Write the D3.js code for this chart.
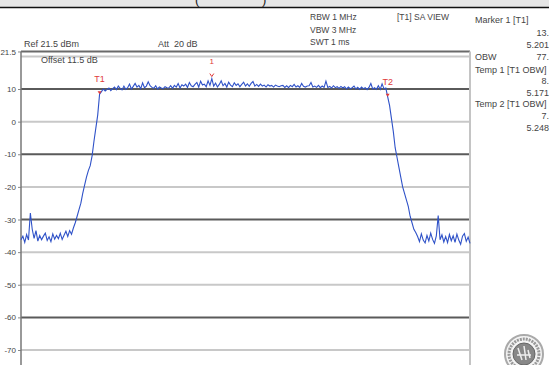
<!DOCTYPE html>
<html>
<head>
<meta charset="utf-8">
<script src="https://cdn.jsdelivr.net/npm/d3@7"></script>
<style>
body { margin: 0; background: #fff; }
svg { display: block; font-family: "Liberation Sans", Arial, sans-serif; }
</style>
</head>
<body>
<script>
var w = 549;
var h = 365;

// spectrum trace, 0.5 MHz steps from 5.150 GHz
var startFreq = 5.15;
var stepFreq = 0.0005;
var levels = [
  -36.2, -35.1, -37.0, -34.6, -36.3, -28.0, -33.0, -35.8, -33.4, -36.6,
  -34.9, -36.2, -35.1, -34.2, -36.4, -35.3, -36.8, -34.4, -36.0, -34.9,
  -35.9, -34.2, -36.1, -34.8, -33.6, -35.2, -33.4,
  -34.5, -32.6, -31.0, -29.0, -27.0, -25.0, -22.0, -19.5, -17.0, -15.0,
  -13.5, -10.5, -6.0, -2.0, 2.0,
  8.4,
  9.2, 10.0, 9.4, 9.9, 10.3, 9.5, 10.1, 10.6, 9.8, 10.9,
  10.2, 9.7, 10.9, 9.9, 10.4, 11.5, 10.0, 10.8, 11.7, 10.6,
  11.1, 10.1, 11.9, 10.4, 10.9, 12.2, 11.0, 10.5, 10.2, 11.0,
  10.0, 10.6, 10.3, 10.1, 10.7, 10.4, 10.3, 11.0, 10.2, 11.1,
  10.6, 11.7, 10.3, 11.3, 10.9, 11.5, 10.5, 12.0, 11.0, 10.7,
  11.4, 12.0, 10.6, 12.4, 11.2, 11.5, 10.7, 12.5, 11.1, 13.2,
  10.9, 11.8, 10.6, 11.4, 12.5, 11.0, 11.7, 10.6, 12.1, 11.2,
  10.7, 11.9, 11.1, 11.6, 10.7, 11.4, 12.1, 10.9, 11.6, 10.8,
  11.7, 12.3, 10.9, 11.4, 10.8, 11.5, 10.9, 11.2, 10.6, 11.3,
  10.9, 11.1, 10.6, 11.2, 10.9, 10.7, 11.0, 11.1, 10.5, 11.0,
  10.4, 11.1, 10.7, 11.4, 10.6, 11.0, 10.5, 11.7, 10.8, 10.6,
  10.9, 11.0, 12.0, 10.6, 10.9, 10.5, 11.1, 10.4, 10.9, 10.5,
  12.4, 10.5, 10.8, 10.3, 11.0, 10.4, 10.7, 10.2, 10.8, 10.3,
  10.7, 10.0, 10.6, 10.1, 10.4, 10.9, 10.0, 10.5, 9.9, 10.6,
  10.1, 10.4, 9.8, 10.5, 11.7, 10.0, 10.4, 9.9, 11.0, 9.9,
  11.6, 10.1, 10.3,
  7.6, 5.0, 1.0, -3.0, -8.0, -11.0, -14.0, -17.0, -20.0, -22.0,
  -24.0, -26.0, -29.0, -31.0, -33.0, -34.0,
  -35.2, -36.8, -34.4, -36.3, -37.2, -34.9, -36.6, -34.2, -36.1, -37.3,
  -35.0, -28.8, -36.2, -34.7, -36.9, -35.2, -37.1, -34.6, -36.5, -35.0,
  -37.0, -34.5, -36.3, -37.6, -35.1, -34.3, -36.7, -35.4, -37.3
];

var yTicks = [21.5, 10, 0, -10, -20, -30, -40, -50, -60, -70];
var gridLevels = [20, 10, 0, -10, -20, -30, -40, -50, -60, -70];
var darkGrid = [10, -10, -30, -60];

var markers = [
  { name: "T1", freq: 5.171, level: 8.4 },
  { name: "T2", freq: 5.248, level: 7.6 }
];
var marker1 = { name: "1", freq: 5.201, level: 13.2 };

var headerLeft = [
  { t: "Ref 21.5 dBm", x: 24, y: 47 },
  { t: "Att\u00a0\u00a020 dB", x: 158, y: 47 },
  { t: "Offset 11.5 dB", x: 41, y: 63 }
];
var headerMid = ["RBW 1 MHz", "VBW 3 MHz", "SWT 1 ms"];
var panelLabels = [
  { t: "Marker 1 [T1]", y: 23 },
  { t: "OBW", y: 60 },
  { t: "Temp 1 [T1 OBW]", y: 73 },
  { t: "Temp 2 [T1 OBW]", y: 107 }
];
var panelValues = [
  { t: "13.", y: 36 },
  { t: "5.201", y: 48 },
  { t: "77.", y: 60 },
  { t: "8.", y: 84 },
  { t: "5.171", y: 96 },
  { t: "7.", y: 119 },
  { t: "5.248", y: 131 }
];

var svg = d3.select("body").append("svg")
  .attr("width", w)
  .attr("height", h);

// top strip
svg.append("rect").attr("x", 0).attr("y", 0).attr("width", w).attr("height", 7)
  .attr("fill", "#e6e6e6");
svg.append("line").attr("x1", 0).attr("x2", w).attr("y1", 7.5).attr("y2", 7.5)
  .attr("stroke", "#111").attr("stroke-width", 1.5);
svg.append("text").attr("x", 195).attr("y", 4).attr("font-size", 13).attr("fill", "#222").text("(");
svg.append("text").attr("x", 262).attr("y", 4).attr("font-size", 13).attr("fill", "#222").text(")");

var left = 21, right = 470;
var x = d3.scaleLinear().domain([5.15, 5.27]).range([left, right]);
var y = d3.scaleLinear().domain([10, -70]).range([89, 350]);

// grid
svg.selectAll(".grid").data(gridLevels).enter().append("line")
  .attr("x1", left).attr("x2", right)
  .attr("y1", function(d) { return y(d); })
  .attr("y2", function(d) { return y(d); })
  .attr("stroke", function(d) { return darkGrid.indexOf(d) >= 0 ? "#5a5a5a" : "#c8c8c8"; })
  .attr("stroke-width", 2);

// frame
svg.append("line").attr("x1", left).attr("x2", right).attr("y1", y(21.5)).attr("y2", y(21.5))
  .attr("stroke", "#6a6a6a").attr("stroke-width", 2);
svg.append("line").attr("x1", right).attr("x2", right).attr("y1", y(21.5)).attr("y2", h)
  .attr("stroke", "#c4c4c4").attr("stroke-width", 2);

var yAxis = svg.append("g")
  .attr("transform", "translate(" + left + ",0)")
  .call(d3.axisLeft(y).tickValues(yTicks).tickSize(3).tickPadding(2)
    .tickFormat(function(d) { return d; }));
yAxis.select(".domain").remove();
yAxis.append("line").attr("x1", 0).attr("x2", 0).attr("y1", y(21.5)).attr("y2", h)
  .attr("stroke", "#777").attr("stroke-width", 1.5);
yAxis.selectAll(".tick line").attr("stroke", "#888");
yAxis.selectAll(".tick text").attr("fill", "#444").attr("font-size", 8)
  .attr("font-family", "Liberation Sans, Arial, sans-serif");

// header texts
svg.selectAll(".hl").data(headerLeft).enter().append("text")
  .attr("x", function(d) { return d.x; }).attr("y", function(d) { return d.y; })
  .attr("font-size", 9).attr("fill", "#444").text(function(d) { return d.t; });
svg.selectAll(".hm").data(headerMid).enter().append("text")
  .attr("x", 310).attr("y", function(d, i) { return 20 + i * 12.5; })
  .attr("font-size", 8.5).attr("fill", "#444").text(function(d) { return d; });
svg.append("text").attr("x", 397).attr("y", 20).attr("font-size", 8.5).attr("fill", "#444")
  .text("[T1] SA VIEW");
svg.selectAll(".pl").data(panelLabels).enter().append("text")
  .attr("x", 475).attr("y", function(d) { return d.y; })
  .attr("font-size", 9).attr("fill", "#444").text(function(d) { return d.t; });
svg.selectAll(".pv").data(panelValues).enter().append("text")
  .attr("x", 549).attr("y", function(d) { return d.y; })
  .attr("text-anchor", "end")
  .attr("font-size", 9).attr("fill", "#444").text(function(d) { return d.t; });

// trace
var line = d3.line()
  .x(function(d, i) { return x(startFreq + i * stepFreq); })
  .y(function(d) { return y(d); });
svg.append("path").datum(levels)
  .attr("d", line)
  .attr("fill", "none")
  .attr("stroke", "#2f52c8")
  .attr("stroke-width", 1.1);

// markers
svg.selectAll(".mk").data(markers).enter().append("text")
  .attr("x", function(d) { return x(d.freq); })
  .attr("y", function(d) { return y(d.level) - 12; })
  .attr("text-anchor", "middle")
  .attr("font-size", 9).attr("fill", "#e03a3a")
  .text(function(d) { return d.name; });
svg.selectAll(".mkp").data(markers).enter().append("path")
  .attr("d", function(d) {
    var cx = x(d.freq), cy = y(d.level) - 1;
    return "M" + (cx - 2) + "," + (cy - 2) + "L" + (cx + 2) + "," + (cy - 2) + "L" + cx + "," + (cy + 1) + "Z";
  })
  .attr("fill", "#e03a3a");
svg.append("text").attr("x", x(marker1.freq)).attr("y", 64)
  .attr("text-anchor", "middle").attr("font-size", 8).attr("fill", "#e03a3a").text(marker1.name);
svg.append("path")
  .attr("d", function() {
    var cx = x(marker1.freq), cy = y(marker1.level) - 2;
    return "M" + (cx - 2) + "," + (cy - 3) + "L" + cx + "," + cy + "L" + (cx + 2) + "," + (cy - 3);
  })
  .attr("fill", "none").attr("stroke", "#e03a3a").attr("stroke-width", 1);

// seal logo
var logo = svg.append("g").attr("transform", "translate(524,354)");
logo.append("circle").attr("r", 19).attr("fill", "#f4f4f4").attr("stroke", "#aaa").attr("stroke-width", 2);
logo.append("circle").attr("r", 15).attr("fill", "none").attr("stroke", "#999").attr("stroke-width", 3)
  .attr("stroke-dasharray", "2,1");
logo.append("circle").attr("r", 11).attr("fill", "#888").attr("stroke", "#666").attr("stroke-width", 1);
logo.append("path").attr("d", "M-6,-6 L-2,6 M0,-8 L2,6 M4,-4 L6,4 M-7,1 L7,1")
  .attr("stroke", "#eee").attr("stroke-width", 1.5).attr("fill", "none");
</script>
</body>
</html>
